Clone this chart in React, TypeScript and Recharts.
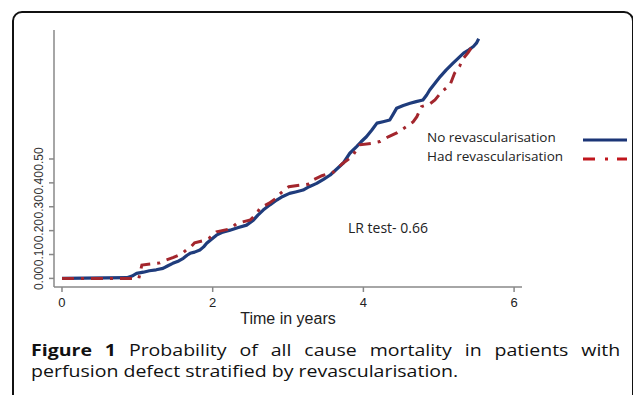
import React from "react";
import { LineChart, Line, XAxis, YAxis, Legend } from "recharts";

// Kaplan-Meier style cumulative mortality
const noRevascTime = [
  0, 0.86, 0.93, 0.99, 1.08, 1.16, 1.25, 1.34, 1.4, 1.47, 1.55, 1.61, 1.66, 1.7, 1.76, 1.83, 1.88, 1.92, 1.98,
  2.05, 2.12, 2.23, 2.33, 2.45, 2.54, 2.6, 2.67, 2.76, 2.85, 2.93, 3.02, 3.1, 3.2, 3.28, 3.38, 3.47, 3.56,
  3.64, 3.73, 3.82, 3.91, 3.97, 4.04, 4.11, 4.18, 4.26, 4.35, 4.4, 4.44, 4.53, 4.62, 4.7, 4.79, 4.84, 4.88,
  4.95, 5.02, 5.1, 5.19, 5.26, 5.33, 5.4, 5.46, 5.5, 5.53,
];
const noRevascRisk = [
  0, 0.003, 0.01, 0.021, 0.026, 0.032, 0.036, 0.042, 0.052, 0.063, 0.073, 0.084, 0.097, 0.105, 0.11, 0.119,
  0.132, 0.147, 0.163, 0.181, 0.192, 0.202, 0.212, 0.223, 0.244, 0.265, 0.286, 0.308, 0.328, 0.343, 0.356,
  0.362, 0.37, 0.384, 0.398, 0.415, 0.433, 0.456, 0.482, 0.524, 0.552, 0.572, 0.593, 0.62, 0.65, 0.656, 0.663,
  0.69, 0.712, 0.724, 0.733, 0.74, 0.747, 0.768, 0.789, 0.817, 0.845, 0.873, 0.901, 0.922, 0.943, 0.957,
  0.971, 0.985, 1.003,
];

const hadRevascTime = [
  0, 1.02, 1.06, 1.3, 1.36, 1.48, 1.6, 1.65, 1.72, 1.76, 1.9, 1.95, 2.05, 2.2, 2.25, 2.32, 2.5, 2.58, 2.63,
  2.75, 2.86, 2.89, 2.97, 3.01, 3.28, 3.33, 3.45, 3.6, 3.66, 3.72, 3.85, 3.92, 3.95, 4.12, 4.22, 4.33, 4.45,
  4.57, 4.66, 4.71, 4.77, 4.88, 4.95, 5.04, 5.15, 5.21, 5.28, 5.31, 5.39, 5.43, 5.5,
];
const hadRevascRisk = [
  0, 0.0, 0.056, 0.065, 0.074, 0.088, 0.105, 0.119, 0.135, 0.149, 0.16, 0.168, 0.195, 0.205, 0.212, 0.23,
  0.245, 0.27, 0.295, 0.315, 0.34, 0.353, 0.375, 0.384, 0.395, 0.412, 0.43, 0.445, 0.462, 0.48, 0.51, 0.545,
  0.559, 0.566, 0.573, 0.593, 0.61, 0.635, 0.655, 0.677, 0.719, 0.73, 0.747, 0.782, 0.81, 0.859, 0.89, 0.915,
  0.945, 0.964, 0.974,
];

const xTicks = [0, 2, 4, 6];
const yTicks = [0, 0.1, 0.2, 0.3, 0.4, 0.5];

const seriesNames = ["No revascularisation", "Had revascularisation"];

const noRevasc = noRevascTime.map((t, i) => ({ t, risk: noRevascRisk[i] }));
const hadRevasc = hadRevascTime.map((t, i) => ({ t, risk: hadRevascRisk[i] }));

const BLUE = "#1f3c7c";
const RED = "#a3262d";

function YTick({ x, y, payload }: any) {
  const cx = x - 6;
  return (
    <text
      x={cx}
      y={y}
      transform={`rotate(-90 ${cx} ${y})`}
      textAnchor="middle"
      dominantBaseline="central"
      fontFamily="'Liberation Sans', Arial, sans-serif"
      fontSize={12}
      fill="#333"
    >
      {payload.value.toFixed(2)}
    </text>
  );
}

function LegendBox() {
  return (
    <div style={{ fontFamily: "'Open Sans', sans-serif", fontSize: 13.5, color: "#222" }}>
      {seriesNames.map((name, i) => (
        <div key={name} style={{ display: "flex", alignItems: "center", height: 19 }}>
          <span style={{ width: 156 }}>{name}</span>
          <svg width={44} height={8} style={{ marginTop: 6 }}>
            <line
              x1={0}
              x2={44}
              y1={4}
              y2={4}
              stroke={i === 0 ? "#1b3576" : "#c0161d"}
              strokeWidth={3}
              strokeDasharray={i === 0 ? undefined : "12 10 3 9"}
            />
          </svg>
        </div>
      ))}
    </div>
  );
}

export default function App() {
  return (
    <div style={{ position: "absolute", left: 0, top: 0, width: 633, height: 395, background: "#fff", overflow: "hidden" }}>
      <div
        style={{
          position: "absolute",
          left: 12,
          top: 11,
          width: 618,
          height: 420,
          border: "2px solid #111",
          borderRadius: 10,
        }}
      />
      <LineChart
        width={633}
        height={395}
        margin={{ top: 30, right: 111, bottom: 71, left: 8 }}
        style={{ position: "absolute", left: 0, top: 0 }}
      >
        <XAxis
          type="number"
          dataKey="t"
          domain={[-0.106, 6.105]}
          ticks={xTicks}
          allowDataOverflow
          height={37}
          tickSize={5}
          tickMargin={6}
          stroke="#888"
          strokeWidth={1.5}
          tick={{ fontSize: 13, fill: "#222", fontFamily: "'Liberation Sans', Arial, sans-serif" }}
          label={{
            value: "Time in years",
            position: "insideBottom",
            offset: 0,
            fontSize: 16,
            fill: "#222",
            fontFamily: "'Liberation Sans', Arial, sans-serif",
          }}
        />
        <YAxis
          type="number"
          domain={[-0.036, 1.04]}
          ticks={yTicks}
          allowDataOverflow
          width={46}
          tickSize={5}
          tickMargin={4}
          stroke="#888"
          strokeWidth={1.5}
          tick={<YTick />}
        />
        <Legend
          layout="vertical"
          verticalAlign="middle"
          align="center"
          content={<LegendBox />}
          wrapperStyle={{ left: 427, top: 127, width: 210 }}
        />
        <Line
          data={noRevasc}
          dataKey="risk"
          name={seriesNames[0]}
          type="linear"
          stroke={BLUE}
          strokeWidth={3.2}
          strokeLinejoin="round"
          dot={false}
          isAnimationActive={false}
        />
        <Line
          data={hadRevasc}
          dataKey="risk"
          name={seriesNames[1]}
          type="linear"
          stroke={RED}
          strokeWidth={3}
          strokeDasharray="12 7 3 7"
          dot={false}
          isAnimationActive={false}
        />
      </LineChart>
      <div
        style={{
          position: "absolute",
          left: 348,
          top: 218,
          fontFamily: "'Open Sans', sans-serif",
          fontSize: 14,
          color: "#222",
        }}
      >
        LR test- 0.66
      </div>
      <div
        style={{
          position: "absolute",
          left: 31,
          top: 340,
          width: 483,
          transform: "scaleX(1.22)",
          transformOrigin: "0 0",
          fontFamily: "'Open Sans', sans-serif",
          fontSize: 16,
          lineHeight: "21px",
          color: "#111",
        }}
      >
        <div style={{ textAlign: "justify", textAlignLast: "justify" }}>
          <b>Figure 1</b> Probability of all cause mortality in patients with
        </div>
        <div>perfusion defect stratified by revascularisation.</div>
      </div>
    </div>
  );
}
